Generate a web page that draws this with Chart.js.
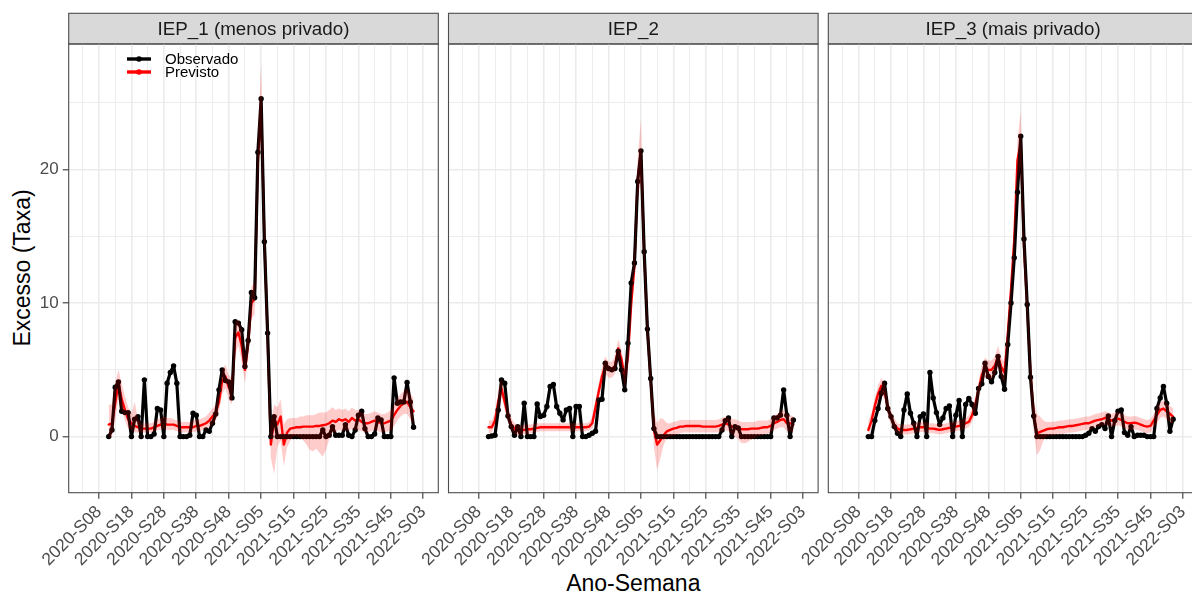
<!DOCTYPE html>
<html lang="pt-BR">
<head>
<meta charset="utf-8">
<title>Excesso por IEP</title>
<script src="https://cdn.jsdelivr.net/npm/chart.js@4.4.1/dist/chart.umd.min.js"></script>
<style>
  html, body { margin: 0; padding: 0; background: #ffffff; overflow: hidden; }
  #fig { position: relative; width: 1192px; height: 596px; overflow: hidden;
         font-family: "Liberation Sans", Arial, Helvetica, sans-serif; background: #ffffff; }
  #fig canvas { position: absolute; top: 0; }
  .titulo-x { position: absolute; left: 533.3px; width: 200px; top: 570px; text-align: center;
              font-size: 23px; line-height: 26px; color: #000; white-space: nowrap; }
  .titulo-y { position: absolute; left: 22px; top: 268.4px; font-size: 23px; line-height: 26px; color: #000;
              white-space: nowrap; transform: translate(-50%, -50%) rotate(-90deg); }
</style>
</head>
<body>
<div id="fig">
  <div class="titulo-x">Ano-Semana</div>
  <div class="titulo-y">Excesso (Taxa)</div>
</div>
<script>
// ---- weeks (epidemiological year-week) ----
const semanas = [
  '2020-S11','2020-S12','2020-S13','2020-S14','2020-S15','2020-S16','2020-S17','2020-S18','2020-S19','2020-S20',
  '2020-S21','2020-S22','2020-S23','2020-S24','2020-S25','2020-S26','2020-S27','2020-S28','2020-S29','2020-S30',
  '2020-S31','2020-S32','2020-S33','2020-S34','2020-S35','2020-S36','2020-S37','2020-S38','2020-S39','2020-S40',
  '2020-S41','2020-S42','2020-S43','2020-S44','2020-S45','2020-S46','2020-S47','2020-S48','2020-S49','2020-S50',
  '2020-S51','2020-S52','2020-S53',
  '2021-S01','2021-S02','2021-S03','2021-S04','2021-S05','2021-S06','2021-S07','2021-S08','2021-S09','2021-S10',
  '2021-S11','2021-S12','2021-S13','2021-S14','2021-S15','2021-S16','2021-S17','2021-S18','2021-S19','2021-S20',
  '2021-S21','2021-S22','2021-S23','2021-S24','2021-S25','2021-S26','2021-S27','2021-S28','2021-S29','2021-S30',
  '2021-S31','2021-S32','2021-S33','2021-S34','2021-S35','2021-S36','2021-S37','2021-S38','2021-S39','2021-S40',
  '2021-S41','2021-S42','2021-S43','2021-S44','2021-S45','2021-S46','2021-S47','2021-S48','2021-S49','2021-S50',
  '2021-S51','2021-S52'
];

// x-axis tick labels and y-axis tick labels
const marcasX = ['2020-S08','2020-S18','2020-S28','2020-S38','2020-S48','2021-S05',
                 '2021-S15','2021-S25','2021-S35','2021-S45','2022-S03'];
const marcasY = [0, 10, 20];

const facetas = ['IEP_1 (menos privado)', 'IEP_2', 'IEP_3 (mais privado)'];

// ---- IEP_1 ----
const obsIEP1 = [
  0, 0.5, 3.7, 4.1, 1.9, 1.8, 1.8, 0, 1.3, 1.5,
  0, 4.25, 0, 0, 0.2, 2.1, 2.0, 0, 4.0, 4.8,
  5.3, 4.0, 0, 0, 0, 0.1, 1.75, 1.6, 0, 0,
  0.5, 0.4, 1.0, 1.7, 3.5, 5.0, 4.2, 4.1, 2.9, 8.6,
  8.5, 8.0, 5.25, 7.2, 10.8, 10.4, 21.3, 25.3, 14.6, 7.75,
  0, 1.5, 0, 0, 0, 0, 0, 0, 0, 0,
  0, 0, 0, 0, 0, 0, 0.5, 0, 0.1, 0.75,
  0.1, 0.1, 0.1, 0.9, 0.1, 0, 0.5, 1.6, 1.9, 0.6,
  0, 0, 0.2, 1.4, 1.25, 0, 0, 0, 4.4, 2.5,
  2.6, 2.6, 4.05, 2.6, 0.7
];
const prevIEP1 = [
  0.9, 1.0, 2.5, 4.0, 2.8, 2.0, 1.3, 1.0, 0.8, 0.7,
  0.6, 0.6, 0.6, 0.6, 0.7, 0.8, 0.9, 1.0, 0.9, 0.9,
  0.9, 0.8, 0.7, 0.7, 0.7, 0.7, 0.7, 0.8, 0.8, 0.9,
  1.0, 1.2, 1.5, 1.8, 2.6, 4.2, 4.5, 3.7, 3.4, 7.4,
  7.8, 6.8, 5.0, 7.0, 10.0, 10.3, 20.8, 24.8, 14.8, 7.5,
  -0.6, 1.3, 0.9, 1.5, -0.6, 0.3, 0.6, 0.65, 0.7, 0.7,
  0.75, 0.75, 0.75, 0.75, 0.8, 0.8, 0.85, 0.9, 1.0, 1.2,
  1.1, 1.3, 1.2, 1.3, 1.1, 1.4, 1.2, 1.3, 1.1, 1.0,
  1.0, 1.1, 1.2, 1.1, 1.0, 1.0, 1.1, 1.2, 1.6, 2.0,
  2.3, 2.5, 2.6, 2.2, 1.9
];
const infIEP1 = [
  -0.1, 0.0, 1.2, 2.8, 2.0, 1.2, 0.6, 0.5, 0.3, 0.3,
  0.3, 0.3, 0.3, 0.3, 0.4, 0.5, 0.5, 0.6, 0.5, 0.5,
  0.5, 0.4, 0.3, 0.3, 0.3, 0.3, 0.3, 0.4, 0.4, 0.5,
  0.6, 0.7, 0.9, 1.2, 1.8, 3.2, 3.6, 2.8, 2.4, 6.2,
  6.8, 5.6, 4.0, 5.8, 8.8, 9.2, 19.2, 22.5, 13.4, 6.2,
  -1.6, -2.8, -0.8, -0.3, -2.2, -0.8, -0.3, 0.0, 0.0, -0.1,
  -0.3, -0.6, -1.0, -1.1, -0.9, -1.2, -1.5, -1.0, -0.2, 0.3,
  0.3, 0.5, 0.4, 0.5, 0.4, 0.6, 0.5, 0.5, 0.4, 0.3,
  0.3, 0.4, 0.5, 0.4, 0.3, 0.3, 0.4, 0.4, 0.8, 1.2,
  1.5, 1.7, 1.7, 1.3, 0.9
];
const supIEP1 = [
  2.4, 2.4, 4.0, 5.0, 4.0, 3.0, 2.2, 1.7, 2.6, 1.3,
  1.0, 1.0, 1.0, 1.0, 1.1, 1.3, 1.4, 1.5, 1.4, 1.4,
  1.3, 1.2, 1.1, 1.1, 1.1, 1.1, 1.2, 1.3, 1.3, 1.4,
  1.5, 1.8, 2.1, 2.4, 3.4, 5.0, 5.4, 4.6, 4.4, 8.6,
  8.8, 8.0, 6.0, 8.2, 11.2, 11.6, 22.8, 27.9, 16.4, 8.8,
  0.9, 2.4, 2.2, 2.8, 0.9, 1.3, 1.4, 1.4, 1.4, 1.5,
  1.5, 1.6, 1.6, 1.6, 1.7, 1.8, 1.8, 1.8, 2.0, 2.2,
  2.0, 2.1, 2.0, 2.1, 1.9, 2.2, 2.0, 2.0, 1.8, 1.7,
  1.7, 1.8, 1.9, 1.8, 1.7, 1.7, 1.8, 2.0, 2.4, 2.9,
  3.2, 3.4, 3.6, 3.2, 2.9
];

// ---- IEP_2 ----
const obsIEP2 = [
  0, 0.05, 0.1, 2.0, 4.25, 4.0, 1.55, 0.75, 0.1, 0.75,
  0, 2.5, 0, 0, 0, 2.45, 1.5, 1.6, 2.25, 3.75,
  3.9, 2.25, 1.75, 1.25, 2.0, 2.1, 0, 2.25, 2.25, 0,
  0, 0.1, 0.25, 0.4, 2.75, 2.8, 5.5, 5.1, 5.0, 5.1,
  6.4, 5.0, 3.5, 7.0, 11.5, 13.0, 19.1, 21.4, 13.85, 8.05,
  4.35, 0.6, 0, 0, 0, 0, 0, 0, 0, 0,
  0, 0, 0, 0, 0, 0, 0, 0, 0, 0,
  0, 0, 0.5, 1.2, 1.4, 0, 0.75, 0.65, 0, 0,
  0, 0, 0, 0, 0, 0, 0, 0, 1.4, 1.4,
  1.6, 3.5, 1.6, 0, 1.25
];
const prevIEP2 = [
  0.7, 0.7, 1.2, 2.6, 3.6, 2.6, 1.6, 0.9, 0.6, 0.5,
  0.45, 0.5, 0.55, 0.55, 0.6, 0.65, 0.7, 0.7, 0.7, 0.7,
  0.7, 0.7, 0.7, 0.7, 0.7, 0.7, 0.7, 0.7, 0.7, 0.7,
  0.7, 0.75, 1.0, 2.2, 3.4, 4.5, 5.3, 5.0, 5.0, 5.3,
  6.6, 5.8, 4.4, 6.0, 10.0, 12.8, 19.3, 21.2, 13.8, 8.0,
  4.2, 0.5, -0.6, -0.25, 0.1, 0.4, 0.5, 0.6, 0.65, 0.75,
  0.75, 0.8, 0.8, 0.8, 0.8, 0.8, 0.75, 0.75, 0.75, 0.75,
  0.75, 0.8, 0.9, 1.0, 0.9, 0.75, 0.7, 0.6, 0.55, 0.55,
  0.55, 0.6, 0.6, 0.6, 0.65, 0.7, 0.7, 0.8, 1.0, 1.1,
  1.25, 1.3, 1.0, 1.0, 0.9
];
const infIEP2 = [
  0.2, 0.3, 0.8, 2.0, 3.0, 2.0, 1.1, 0.5, 0.2, 0.1,
  0.1, 0.2, 0.2, 0.25, 0.3, 0.35, 0.4, 0.4, 0.4, 0.4,
  0.4, 0.4, 0.4, 0.4, 0.4, 0.4, 0.4, 0.4, 0.4, 0.4,
  0.4, 0.45, 0.6, 1.6, 2.8, 3.9, 4.7, 4.4, 4.4, 4.7,
  5.9, 5.1, 3.7, 5.0, 8.8, 11.6, 18.0, 19.0, 12.5, 7.0,
  3.2, -0.8, -2.5, -1.6, -0.6, -0.1, 0.0, 0.1, 0.15, 0.25,
  0.3, 0.3, 0.3, 0.3, 0.3, 0.3, 0.3, 0.3, 0.3, 0.3,
  0.3, 0.3, 0.4, 0.5, 0.4, 0.2, 0.0, -0.2, -0.5, -0.5,
  -0.4, -0.2, -0.1, 0.0, 0.1, 0.2, 0.2, 0.3, 0.5, 0.6,
  0.7, 0.7, 0.4, 0.4, 0.3
];
const supIEP2 = [
  1.2, 1.2, 1.8, 3.4, 4.4, 3.2, 2.1, 1.4, 1.0, 0.9,
  0.8, 0.9, 0.9, 0.9, 0.95, 1.0, 1.0, 1.0, 1.0, 1.0,
  1.0, 1.0, 1.0, 1.0, 1.0, 1.0, 1.0, 1.0, 1.0, 1.0,
  1.0, 1.1, 1.5, 2.8, 4.0, 5.2, 6.0, 5.6, 5.6, 6.0,
  7.3, 6.5, 5.1, 7.0, 11.2, 14.1, 20.8, 23.8, 15.2, 9.0,
  5.2, 1.8, 1.0, 1.4, 1.3, 1.0, 1.0, 1.1, 1.15, 1.25,
  1.25, 1.25, 1.25, 1.25, 1.25, 1.25, 1.25, 1.25, 1.25, 1.25,
  1.25, 1.3, 1.4, 1.5, 1.4, 1.3, 1.3, 1.2, 1.1, 1.1,
  1.1, 1.1, 1.1, 1.2, 1.2, 1.2, 1.2, 1.3, 1.6, 1.7,
  1.9, 2.0, 1.7, 1.6, 1.5
];

// ---- IEP_3 ----
const obsIEP3 = [
  0, 0, 1.2, 2.1, 3.25, 4.0, 2.1, 1.5, 0.75, 0.25,
  0, 2.0, 3.2, 1.75, 1.0, 0, 1.5, 1.7, 0, 4.8,
  2.9, 1.8, 0.9, 1.4, 2.1, 2.3, 0, 1.6, 2.7, 0,
  2.4, 2.85, 2.4, 1.75, 3.6, 3.95, 5.5, 4.5, 4.1, 4.8,
  6.0, 4.5, 3.55, 6.9, 10.0, 13.4, 18.3, 22.5, 14.8, 9.9,
  4.45, 1.55, 0, 0, 0, 0, 0, 0, 0, 0,
  0, 0, 0, 0, 0, 0, 0, 0.1, 0.25, 0.6,
  0.4, 0.75, 0.9, 0.6, 1.55, 0, 1.2, 1.9, 2.0, 0.3,
  0.1, 0.75, 0, 0.1, 0.1, 0.1, 0, 0, 0, 2.1,
  2.9, 3.75, 2.5, 0.4, 1.3
];
const prevIEP3 = [
  0.5, 1.2, 2.3, 3.2, 3.8, 3.4, 2.2, 1.4, 0.9, 0.6,
  0.5, 0.5, 0.5, 0.55, 0.6, 0.65, 0.7, 0.7, 0.65, 0.6,
  0.6, 0.55, 0.5, 0.55, 0.6, 0.65, 0.7, 0.75, 0.8, 0.85,
  1.0, 1.1, 1.6, 2.4, 3.5, 4.6, 5.2, 5.0, 5.0, 5.3,
  6.0, 5.2, 4.8, 7.6, 11.0, 14.7, 20.7, 22.0, 14.3, 9.7,
  4.8, 1.5, 0.25, 0.35, 0.45, 0.55, 0.6, 0.6, 0.65, 0.7,
  0.7, 0.75, 0.8, 0.8, 0.85, 0.9, 0.95, 1.0, 1.0, 1.1,
  1.2, 1.25, 1.3, 1.4, 1.3, 1.2, 1.3, 1.35, 1.25, 1.1,
  1.0, 1.0, 1.05, 1.0, 0.9, 0.8, 0.75, 0.8, 1.2, 1.6,
  2.0, 2.1, 1.9, 1.7, 1.5
];
const infIEP3 = [
  0.0, 0.6, 1.7, 2.6, 3.2, 2.8, 1.6, 0.9, 0.5, 0.25,
  0.15, 0.15, 0.15, 0.2, 0.25, 0.3, 0.35, 0.35, 0.3, 0.25,
  0.25, 0.2, 0.15, 0.2, 0.25, 0.3, 0.35, 0.4, 0.45, 0.5,
  0.6, 0.7, 1.1, 1.8, 2.9, 4.0, 4.5, 4.3, 4.3, 4.6,
  5.3, 4.5, 4.0, 6.6, 9.8, 13.4, 19.2, 20.2, 13.0, 8.6,
  3.8, 0.4, -1.4, -1.0, -0.3, 0.0, 0.1, 0.1, 0.15, 0.2,
  0.2, 0.25, 0.3, 0.3, 0.35, 0.4, 0.45, 0.5, 0.5, 0.6,
  0.7, 0.75, 0.8, 0.9, 0.8, 0.7, 0.8, 0.85, 0.75, 0.6,
  0.5, 0.5, 0.55, 0.5, 0.4, 0.3, 0.25, 0.3, 0.7, 1.0,
  1.4, 1.5, 1.3, 1.1, 0.9
];
const supIEP3 = [
  1.2, 1.8, 2.9, 3.8, 4.4, 4.0, 2.8, 1.9, 1.4, 1.0,
  0.9, 0.9, 0.9, 0.95, 1.0, 1.05, 1.1, 1.1, 1.05, 1.0,
  1.0, 0.95, 0.9, 0.95, 1.0, 1.05, 1.1, 1.15, 1.2, 1.25,
  1.4, 1.6, 2.1, 3.0, 4.1, 5.4, 5.9, 5.7, 5.7, 6.0,
  6.8, 5.9, 5.6, 8.6, 12.2, 16.0, 22.2, 24.4, 15.6, 10.8,
  5.8, 2.6, 1.7, 1.5, 1.2, 1.1, 1.1, 1.1, 1.15, 1.2,
  1.2, 1.25, 1.3, 1.3, 1.35, 1.4, 1.45, 1.5, 1.5, 1.6,
  1.7, 1.75, 1.8, 1.9, 1.8, 1.7, 1.8, 1.85, 1.75, 1.6,
  1.5, 1.5, 1.55, 1.5, 1.4, 1.3, 1.25, 1.3, 1.7, 2.2,
  2.6, 2.7, 2.5, 2.3, 2.1
];

// ---- helpers ----
const semanasPorAno = { 2020: 53, 2021: 52 };
// position on the x axis, counted in weeks from 2020-S08
function indiceSemana(rotulo) {
  const partes = rotulo.split('-S');
  const ano = Number(partes[0]);
  let n = Number(partes[1]);
  for (let a = 2020; a < ano; a++) n += semanasPorAno[a];
  return n - 8;
}
const pontos = (valores) => semanas.map((s, k) => ({ x: indiceSemana(s), y: valores[k] }));

const rotuloX = new Map(marcasX.map(r => [indiceSemana(r), r]));
const gradeX = [];
for (let v = -5; v <= 100; v += 5) gradeX.push(v);   // major + minor grid positions
const gradeY = [0, 5, 10, 15, 20, 25];
const ehMaiorX = v => rotuloX.has(v);
const ehMaiorY = v => marcasY.includes(v);

// ---- layout constants (px) ----
const FONTE = '"Liberation Sans", Arial, Helvetica, sans-serif';
const ALTURA = 596;
const FAIXA_TOPO = 13.3;
const PAINEL_TOPO = 44;
const PAINEL_BASE = 492.7;
const LARG_PAINEL = 369.6;
const MARGEM = 75;
const X_MIN = -9.34, X_MAX = 104.63;
const Y_MIN = -4.2, Y_MAX = 29.4;
const COR_BORDA = '#4d4d4d';
const COR_GRADE = '#EBEBEB';
const COR_TEXTO_EIXO = '#4D4D4D';
const TRANSP = 'rgba(0,0,0,0)';

Chart.defaults.font.family = FONTE;

const paineis = [
  { titulo: facetas[0], obs: obsIEP1, prev: prevIEP1, inf: infIEP1, sup: supIEP1, esquerda: 68.7, eixoY: true,  legenda: true },
  { titulo: facetas[1], obs: obsIEP2, prev: prevIEP2, inf: infIEP2, sup: supIEP2, esquerda: 448.5, eixoY: false, legenda: false },
  { titulo: facetas[2], obs: obsIEP3, prev: prevIEP3, inf: infIEP3, sup: supIEP3, esquerda: 828.3, eixoY: false, legenda: false }
];

// strip, panel border and the in-panel key
const painelPlugin = {
  id: 'painel',
  beforeDraw(chart, args, opts) {
    const { ctx, chartArea: a } = chart;
    ctx.save();
    ctx.fillStyle = '#D9D9D9';
    ctx.fillRect(a.left, FAIXA_TOPO, a.right - a.left, a.top - FAIXA_TOPO);
    ctx.strokeStyle = COR_BORDA;
    ctx.lineWidth = 1.1;
    ctx.strokeRect(a.left, FAIXA_TOPO, a.right - a.left, a.top - FAIXA_TOPO);
    ctx.fillStyle = '#1A1A1A';
    ctx.font = '18.75px ' + FONTE;
    ctx.textAlign = 'center';
    ctx.textBaseline = 'middle';
    ctx.fillText(opts.titulo, (a.left + a.right) / 2, (FAIXA_TOPO + a.top) / 2 + 1);
    ctx.restore();
  },
  afterDraw(chart, args, opts) {
    const { ctx, chartArea: a } = chart;
    ctx.save();
    ctx.strokeStyle = COR_BORDA;
    ctx.lineWidth = 1.1;
    ctx.strokeRect(a.left, a.top, a.right - a.left, a.bottom - a.top);
    if (opts.legenda) {
      const x0 = a.left + 58.3, x1 = a.left + 82.3, xt = a.left + 96.3;
      const itens = [
        { texto: 'Observado', cor: '#000000', y: 59 },
        { texto: 'Previsto',  cor: '#FF0000', y: 72 }
      ];
      ctx.font = '15px ' + FONTE;
      ctx.textAlign = 'left';
      ctx.textBaseline = 'middle';
      itens.forEach(it => {
        ctx.strokeStyle = it.cor;
        ctx.lineWidth = 3.4;
        ctx.beginPath();
        ctx.moveTo(x0, it.y);
        ctx.lineTo(x1, it.y);
        ctx.stroke();
        ctx.fillStyle = it.cor;
        ctx.beginPath();
        ctx.arc((x0 + x1) / 2, it.y, 2.8, 0, Math.PI * 2);
        ctx.fill();
        ctx.fillStyle = '#000000';
        ctx.fillText(it.texto, xt, it.y + 0.5);
      });
    }
    ctx.restore();
  }
};

const fig = document.getElementById('fig');

paineis.forEach(p => {
  const deslocamento = Math.floor(p.esquerda) - MARGEM;
  const largEixoY = p.esquerda - deslocamento;
  const largCanvas = Math.ceil(largEixoY + LARG_PAINEL + 6);
  const folgaDir = largCanvas - largEixoY - LARG_PAINEL;

  const cv = document.createElement('canvas');
  cv.width = largCanvas;
  cv.height = ALTURA;
  cv.style.left = deslocamento + 'px';
  cv.style.width = largCanvas + 'px';
  cv.style.height = ALTURA + 'px';
  fig.appendChild(cv);

  // dataset 0 is painted last (on top): ribbon, then observed, then predicted underneath
  new Chart(cv, {
    type: 'line',
    data: {
      datasets: [
        { label: 'sup', data: pontos(p.sup), borderColor: TRANSP, borderWidth: 0, pointRadius: 0,
          backgroundColor: 'rgba(255,0,0,0.2)', fill: '+1' },
        { label: 'inf', data: pontos(p.inf), borderColor: TRANSP, borderWidth: 0, pointRadius: 0, fill: false },
        { label: 'Observado', data: pontos(p.obs), borderColor: '#000000', borderWidth: 3.2,
          borderJoinStyle: 'round', borderCapStyle: 'round',
          pointRadius: 2.7, pointBackgroundColor: '#000000', pointBorderWidth: 0, fill: false },
        { label: 'Previsto', data: pontos(p.prev), borderColor: '#FF0000', borderWidth: 2.4,
          borderJoinStyle: 'round', borderCapStyle: 'round',
          pointRadius: 0, fill: false }
      ]
    },
    options: {
      responsive: false,
      animation: false,
      devicePixelRatio: 1,
      layout: { autoPadding: false, padding: { top: PAINEL_TOPO, right: folgaDir, bottom: 0, left: 0 } },
      elements: { line: { tension: 0 } },
      plugins: {
        legend: { display: false },
        tooltip: { enabled: false },
        painel: { titulo: p.titulo, legenda: p.legenda }
      },
      scales: {
        x: {
          type: 'linear',
          min: X_MIN,
          max: X_MAX,
          afterBuildTicks: s => { s.ticks = gradeX.map(v => ({ value: v })); },
          afterFit: s => { s.height = ALTURA - PAINEL_BASE; },
          border: { display: false },
          grid: {
            color: COR_GRADE,
            lineWidth: c => (c.tick && ehMaiorX(c.tick.value)) ? 1.6 : 0.9,
            tickColor: c => (c.tick && ehMaiorX(c.tick.value)) ? '#333333' : TRANSP,
            tickLength: 6,
            tickWidth: 1.1
          },
          ticks: {
            autoSkip: false,
            minRotation: 45,
            maxRotation: 45,
            padding: 3,
            color: COR_TEXTO_EIXO,
            font: { size: 17.5, family: FONTE },
            callback: v => rotuloX.get(v) || ''
          }
        },
        y: {
          type: 'linear',
          min: Y_MIN,
          max: Y_MAX,
          afterBuildTicks: s => { s.ticks = gradeY.map(v => ({ value: v })); },
          afterFit: s => { s.width = largEixoY; },
          border: { display: false },
          grid: {
            color: COR_GRADE,
            lineWidth: c => (c.tick && ehMaiorY(c.tick.value)) ? 1.6 : 0.9,
            tickColor: c => (p.eixoY && c.tick && ehMaiorY(c.tick.value)) ? '#333333' : TRANSP,
            tickLength: 6,
            tickWidth: 1.1
          },
          ticks: {
            display: p.eixoY,
            padding: 4,
            color: COR_TEXTO_EIXO,
            font: { size: 17, family: FONTE },
            callback: v => ehMaiorY(v) ? String(v) : ''
          }
        }
      }
    },
    plugins: [painelPlugin]
  });
});
</script>
</body>
</html>
